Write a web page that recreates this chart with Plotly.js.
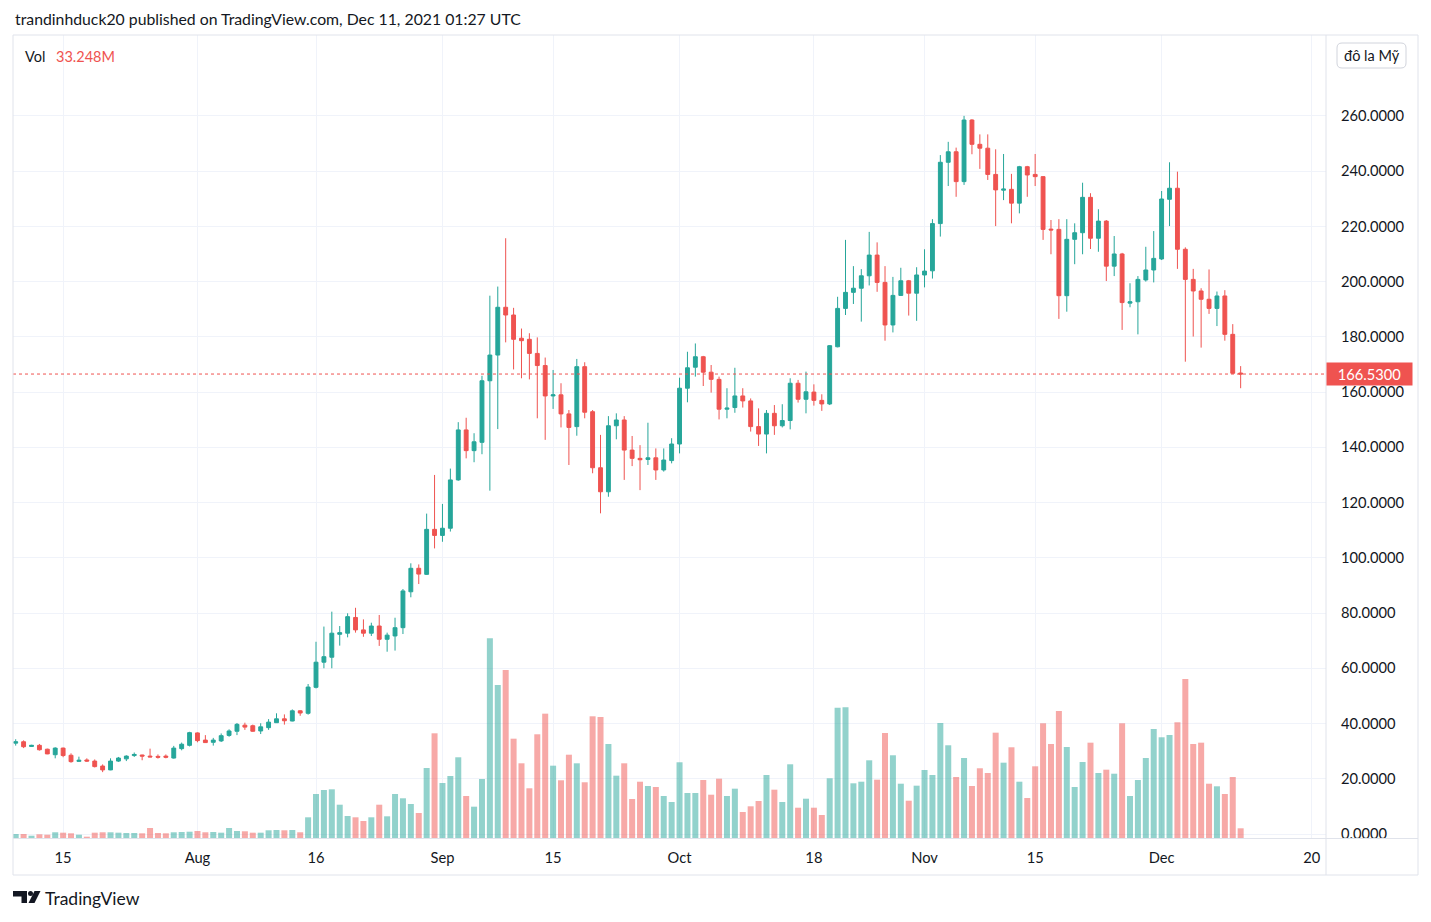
<!DOCTYPE html>
<html>
<head>
<meta charset="utf-8">
<script src="https://cdn.plot.ly/plotly-3.0.1.min.js"></script>
<style>
html,body{margin:0;padding:0;background:#ffffff;}
#chart{width:1431px;height:922px;}
</style>
</head>
<body>
<div id="chart"></div>
<script>
// ---------------- DATA (SOL/USD daily) ----------------
const startDate = '2021-07-09';

const open = [
 32.9,33.4,31.7,32.1,30.7,28.7,31.1,28.5,26.3,26.8,
 26.4,24.6,23.2,26.4,27.2,28.4,28.6,28.2,28.1,28.2,
 27.5,30.9,32.1,36.6,34.0,33.2,33.7,35.7,37.2,39.4,
 39.2,37.3,38.5,40.3,41.7,40.9,44.6,43.7,53.1,62.2,
 64.0,72.3,72.7,78.4,73.9,72.7,75.3,70.5,71.7,74.7,
 87.7,96.2,94.0,110.3,108.1,110.7,128.2,146.3,138.8,141.8,
 164.1,173.4,190.7,187.9,179.5,179.1,174.0,169.6,158.6,159.0,
 152.1,147.5,169.2,152.9,132.6,123.9,147.8,149.9,139.0,136.0,
 135.6,136.2,131.8,135.2,141.2,161.4,169.0,172.8,167.2,164.6,
 153.8,154.4,158.6,156.8,147.5,144.8,152.3,147.8,149.7,163.2,
 157.4,160.0,157.0,155.7,176.4,190.3,196.1,197.6,202.1,209.6,
 199.7,184.3,195.0,200.3,195.8,202.4,203.9,221.0,243.2,247.0,
 236.2,258.5,249.7,248.3,238.8,233.1,233.4,228.4,241.6,238.8,
 238.0,219.0,218.9,194.9,215.3,217.7,230.5,215.7,221.9,205.6,
 210.0,192.2,192.7,200.6,204.2,208.2,229.8,233.8,211.7,200.8,
 196.6,193.6,190.3,194.8,180.9,166.9
];
const high = [
 34.3,33.9,32.3,32.6,30.9,31.4,31.3,29.2,28.0,27.4,
 27.0,25.2,27.4,27.9,28.5,29.5,28.7,30.9,28.8,28.8,
 31.9,33.1,37.0,36.8,35.8,34.8,36.4,37.9,40.2,40.3,
 39.6,40.1,41.6,43.7,43.3,45.1,44.8,54.3,69.6,75.1,
 80.5,75.3,79.9,81.9,77.7,76.5,79.3,72.9,78.3,88.7,
 98.0,97.6,116.0,130.0,119.5,132.3,149.1,150.7,145.1,165.9,
 194.9,198.2,215.7,190.5,183.0,181.3,179.8,172.5,168.0,163.2,
 153.5,172.0,170.8,153.5,144.5,151.3,152.3,151.3,144.1,140.8,
 148.9,139.6,139.6,143.3,165.2,174.6,177.6,173.1,169.8,165.6,
 161.4,168.8,161.4,157.7,154.1,153.5,155.3,155.6,165.0,164.4,
 167.4,162.8,159.2,177.0,194.5,215.1,205.6,204.5,218.0,214.2,
 205.6,201.7,205.0,200.6,205.2,211.7,222.6,245.8,250.6,248.5,
 260.0,258.8,253.3,253.3,247.9,246.2,239.0,241.9,241.9,246.2,
 238.2,222.3,222.6,222.6,221.1,235.8,232.0,226.2,222.3,216.5,
 210.4,199.4,202.0,212.6,218.3,232.8,243.2,239.8,212.4,204.6,
 197.6,204.4,196.4,196.9,184.6,169.4
];
const low = [
 32.0,31.1,31.5,30.2,28.9,27.4,27.8,25.8,26.1,26.1,
 24.1,22.4,23.1,26.1,26.4,27.9,26.7,27.8,27.3,27.4,
 27.3,30.3,31.7,33.2,33.0,32.0,33.3,35.2,35.8,37.7,
 37.0,36.2,37.7,40.2,39.6,40.8,42.8,43.2,52.7,60.0,
 60.0,68.2,71.2,72.9,71.4,71.7,68.1,66.0,66.4,72.4,
 85.7,90.5,93.8,103.4,105.8,109.5,127.9,136.0,134.6,137.5,
 124.3,146.6,178.0,168.2,165.0,164.6,150.5,142.7,153.9,147.2,
 133.6,144.2,150.5,130.6,116.1,122.1,142.9,128.2,133.2,124.5,
 133.6,128.2,131.2,134.2,137.8,156.3,165.6,162.2,159.8,150.1,
 150.5,152.5,154.4,145.7,140.5,137.8,144.5,147.2,146.5,156.2,
 152.3,155.1,153.2,155.3,176.2,187.9,191.9,185.5,198.6,196.3,
 178.6,181.6,194.9,187.7,185.8,197.9,201.1,216.3,234.6,230.7,
 235.0,246.1,240.8,236.8,220.1,229.5,221.1,224.7,230.7,234.6,
 215.1,209.9,186.5,189.1,206.3,209.9,211.8,210.8,200.2,202.0,
 182.5,190.7,180.9,200.0,199.7,207.8,220.1,204.6,171.0,180.1,
 176.1,188.3,183.9,178.6,166.6,161.4
];
const close = [
 33.4,31.6,32.1,30.5,29.0,31.1,28.4,26.2,26.7,26.4,
 24.4,23.2,26.4,27.5,28.2,28.8,28.2,27.9,27.8,27.8,
 31.1,32.5,36.7,33.8,33.1,34.0,35.6,37.3,39.7,38.7,
 37.2,38.8,40.5,41.7,41.0,44.6,43.8,53.2,62.2,64.2,
 72.7,72.9,78.7,73.9,72.7,75.3,70.5,72.0,74.7,88.0,
 96.2,94.1,110.3,108.1,110.7,128.2,146.3,138.8,142.0,164.1,
 173.4,190.7,187.9,179.1,178.6,174.0,169.6,158.6,159.0,152.1,
 147.2,169.2,152.7,132.6,123.9,147.8,149.9,139.0,136.0,135.5,
 136.2,131.8,135.4,141.2,161.4,168.8,172.8,167.2,164.6,153.8,
 154.2,158.6,156.8,147.5,144.8,152.3,147.8,149.7,163.2,157.4,
 160.1,157.0,155.7,176.8,190.3,196.1,197.6,202.1,209.6,199.7,
 184.3,195.0,200.3,195.8,202.4,203.8,221.0,243.2,247.0,236.2,
 258.5,249.7,248.3,238.8,233.2,233.5,228.4,241.6,238.6,238.0,
 218.9,218.7,194.9,215.3,217.7,230.5,215.7,221.9,205.6,210.0,
 192.4,192.7,200.8,204.2,208.4,229.9,233.8,211.7,200.8,196.6,
 193.6,190.3,194.8,180.9,166.8,166.53
];
// volume in millions
const volume = [
 13.7,13.7,7.9,12.7,11.3,19.6,18.2,16.1,11.3,4.5,
 18.2,19.6,19.6,18.2,17.2,17.2,16.1,34.3,17.2,16.1,
 19.6,20.6,21.6,24.0,19.6,20.6,18.2,34.3,24.0,23.0,
 18.2,18.2,26.4,27.4,26.4,27.4,19.6,71.0,150.9,164.6,
 167.0,114.2,75.5,71.0,58.3,71.0,114.2,74.4,150.9,136.2,
 116.6,85.8,240.1,359.1,188.7,212.7,276.8,144.1,107.4,202.4,
 685.0,524.8,576.2,340.6,256.2,170.5,355.7,426.4,248.0,197.9,
 285.7,256.2,191.1,417.4,415.0,322.4,213.7,256.2,133.8,193.1,
 178.4,174.9,144.1,123.5,259.7,154.4,154.4,198.9,148.5,203.4,
 144.1,169.1,89.2,108.7,126.9,216.1,165.7,123.5,252.8,103.9,
 134.8,103.9,78.9,204.8,446.9,448.3,187.6,193.1,266.5,200.0,
 360.2,283.7,186.2,127.9,179.4,233.2,216.1,394.5,318.0,209.2,
 274.4,178.4,239.1,223.0,361.2,258.3,311.1,193.1,137.2,245.9,
 393.4,322.4,435.6,312.1,174.9,260.7,326.9,223.0,234.3,220.5,
 393.4,144.1,198.9,274.4,373.9,345.4,353.3,396.9,545.4,322.4,
 326.9,186.2,177.3,150.9,209.2,33.248
];

const tickDates = ['2021-07-15','2021-08-01','2021-08-16','2021-09-01','2021-09-15','2021-10-01','2021-10-18','2021-11-01','2021-11-15','2021-12-01','2021-12-20'];
const tickText  = ['15','Aug','16','Sep','15','Oct','18','Nov','15','Dec','20'];
const priceTicks = [0,20,40,60,80,100,120,140,160,180,200,220,240,260];
const lastPrice = 166.53;
const lastVolumeText = '33.248M';
const headerText = 'trandinhduck20 published on TradingView.com, Dec 11, 2021 01:27 UTC';
const currencyText = 'đô la Mỹ';

// ---------------- derived ----------------
const dates = open.map((_, i) => {
  const d = new Date(startDate + 'T00:00:00Z');
  d.setUTCDate(d.getUTCDate() + i);
  return d.toISOString().slice(0, 10);
});

const FONT = 'Lato, "Liberation Sans", sans-serif';
const TEXT = '#131722';
const GRID = '#f0f3fa';
const BORDER = '#e0e3eb';
const UP = '#26a69a', DOWN = '#ef5350';
const UPV = 'rgba(38,166,154,0.5)', DOWNV = 'rgba(239,83,80,0.5)';
const volColors = close.map((c, i) => c >= open[i] ? UPV : DOWNV);
const AX = 14.7;

// pixel -> paper helpers (plot area: x 13..1326, y 35..838)
const PL = 13, PR = 1326, PT = 35, PB = 838;
const fx = x => (x - PL) / (PR - PL);
const fy = y => (PB - y) / (PB - PT);

const candle = {
  type: 'candlestick', x: dates, open: open, high: high, low: low, close: close,
  xaxis: 'x', yaxis: 'y',
  increasing: {line: {color: UP, width: 1}, fillcolor: UP},
  decreasing: {line: {color: DOWN, width: 1}, fillcolor: DOWN},
  whiskerwidth: 0, hoverinfo: 'skip', showlegend: false
};
const vol = {
  type: 'bar', x: dates, y: volume, xaxis: 'x', yaxis: 'y2',
  marker: {color: volColors, line: {width: 0}},
  width: 0.76 * 86400000, hoverinfo: 'skip', showlegend: false
};

function hline(y, x0, x1) {
  return {type: 'line', xref: 'paper', yref: 'paper', x0: fx(x0), x1: fx(x1), y0: fy(y), y1: fy(y), line: {color: BORDER, width: 1}};
}
function vline(x, y0, y1) {
  return {type: 'line', xref: 'paper', yref: 'paper', x0: fx(x), x1: fx(x), y0: fy(y0), y1: fy(y1), line: {color: BORDER, width: 1}};
}
function pathPx(pts) {
  return pts.map((p, k) => (k === 0 ? 'M' : 'L') + fx(p[0]) + ',' + fy(p[1])).join(' ') + ' Z';
}
function roundRect(x0, y0, x1, y1, r) {
  const P = (x, y) => fx(x) + ',' + fy(y);
  return 'M' + P(x0 + r, y0) + ' L' + P(x1 - r, y0) + ' Q' + P(x1, y0) + ' ' + P(x1, y0 + r) +
    ' L' + P(x1, y1 - r) + ' Q' + P(x1, y1) + ' ' + P(x1 - r, y1) +
    ' L' + P(x0 + r, y1) + ' Q' + P(x0, y1) + ' ' + P(x0, y1 - r) +
    ' L' + P(x0, y0 + r) + ' Q' + P(x0, y0) + ' ' + P(x0 + r, y0) + ' Z';
}

const shapes = [
  {type: 'line', xref: 'paper', yref: 'y', x0: 0, x1: 1, y0: lastPrice, y1: lastPrice, line: {color: DOWN, width: 1, dash: 'dot'}},
  hline(35, 13, 1418), hline(875, 13, 1418), hline(838.5, 13, 1418),
  vline(13, 35, 875), vline(1418, 35, 875), vline(1326, 35, 875),
  {type: 'path', xref: 'paper', yref: 'paper', path: roundRect(1337, 43, 1406, 68, 5),
   line: {color: '#d1d4dc', width: 1}, fillcolor: '#ffffff'},
  // TradingView logo
  {type: 'path', xref: 'paper', yref: 'paper', path: pathPx([[13,891],[27,891],[27,903],[21.5,903],[21.5,896.5],[13,896.5]]),
   fillcolor: TEXT, line: {width: 0}},
  {type: 'circle', xref: 'paper', yref: 'paper', x0: fx(28), x1: fx(33), y0: fy(891), y1: fy(896),
   fillcolor: TEXT, line: {width: 0}},
  {type: 'path', xref: 'paper', yref: 'paper', path: pathPx([[34.5,891],[40.5,891],[34.5,903],[28.5,903]]),
   fillcolor: TEXT, line: {width: 0}}
];

const annotations = [
  {xref: 'paper', yref: 'paper', x: fx(13), y: fy(19), xanchor: 'left', yanchor: 'middle', showarrow: false,
   text: headerText, font: {family: FONT, size: 15.8, color: TEXT}},
  {xref: 'paper', yref: 'paper', x: fx(23), y: fy(56), xanchor: 'left', yanchor: 'middle', showarrow: false,
   text: 'Vol', font: {family: FONT, size: 14.5, color: TEXT}},
  {xref: 'paper', yref: 'paper', x: fx(54), y: fy(56), xanchor: 'left', yanchor: 'middle', showarrow: false,
   text: lastVolumeText, font: {family: FONT, size: 14.5, color: DOWN}},
  {xref: 'paper', yref: 'paper', x: fx(1371.5), y: fy(55.5), xanchor: 'center', yanchor: 'middle', showarrow: false,
   text: currencyText, font: {family: FONT, size: 14.5, color: TEXT}},
  {xref: 'paper', yref: 'y', x: 1, y: lastPrice, xanchor: 'left', yanchor: 'middle', showarrow: false,
   text: lastPrice.toFixed(4), bgcolor: DOWN, font: {family: FONT, size: AX, color: '#ffffff'},
   width: 79, height: 16, borderpad: 3, align: 'center'},
  {xref: 'paper', yref: 'paper', x: fx(43), y: fy(898), xanchor: 'left', yanchor: 'middle', showarrow: false,
   text: 'TradingView', font: {family: FONT, size: 17.5, color: TEXT}}
];

const layout = {
  width: 1431, height: 922,
  margin: {l: PL, r: 1431 - PR, t: PT, b: 922 - PB, pad: 0},
  paper_bgcolor: '#ffffff', plot_bgcolor: '#ffffff',
  font: {family: FONT, color: TEXT},
  showlegend: false,
  dragmode: false,
  boxgap: 0.3,
  xaxis: {
    type: 'date', range: ['2021-07-08 15:48', '2021-12-21 19:12'],
    tickmode: 'array', tickvals: tickDates, ticktext: tickText,
    showgrid: true, gridcolor: GRID, gridwidth: 1, zeroline: false, showline: false,
    ticks: 'outside', ticklen: 6, tickcolor: 'rgba(0,0,0,0)',
    tickfont: {family: FONT, size: AX, color: TEXT},
    rangeslider: {visible: false}, fixedrange: true
  },
  yaxis: {
    side: 'right', range: [-1.448, 289.28],
    tickmode: 'array', tickvals: priceTicks, ticktext: priceTicks.map(v => v.toFixed(4)),
    showgrid: true, gridcolor: GRID, gridwidth: 1, zeroline: false, showline: false,
    ticks: 'outside', ticklen: 11, tickcolor: 'rgba(0,0,0,0)',
    tickfont: {family: FONT, size: AX, color: TEXT}, fixedrange: true
  },
  yaxis2: {
    overlaying: 'y', side: 'left', range: [0, 2754],
    showgrid: false, zeroline: false, showticklabels: false, showline: false, ticks: '', fixedrange: true
  },
  shapes: shapes,
  annotations: annotations
};

Plotly.newPlot('chart', [vol, candle], layout, {displayModeBar: false, staticPlot: true});
</script>
</body>
</html>
